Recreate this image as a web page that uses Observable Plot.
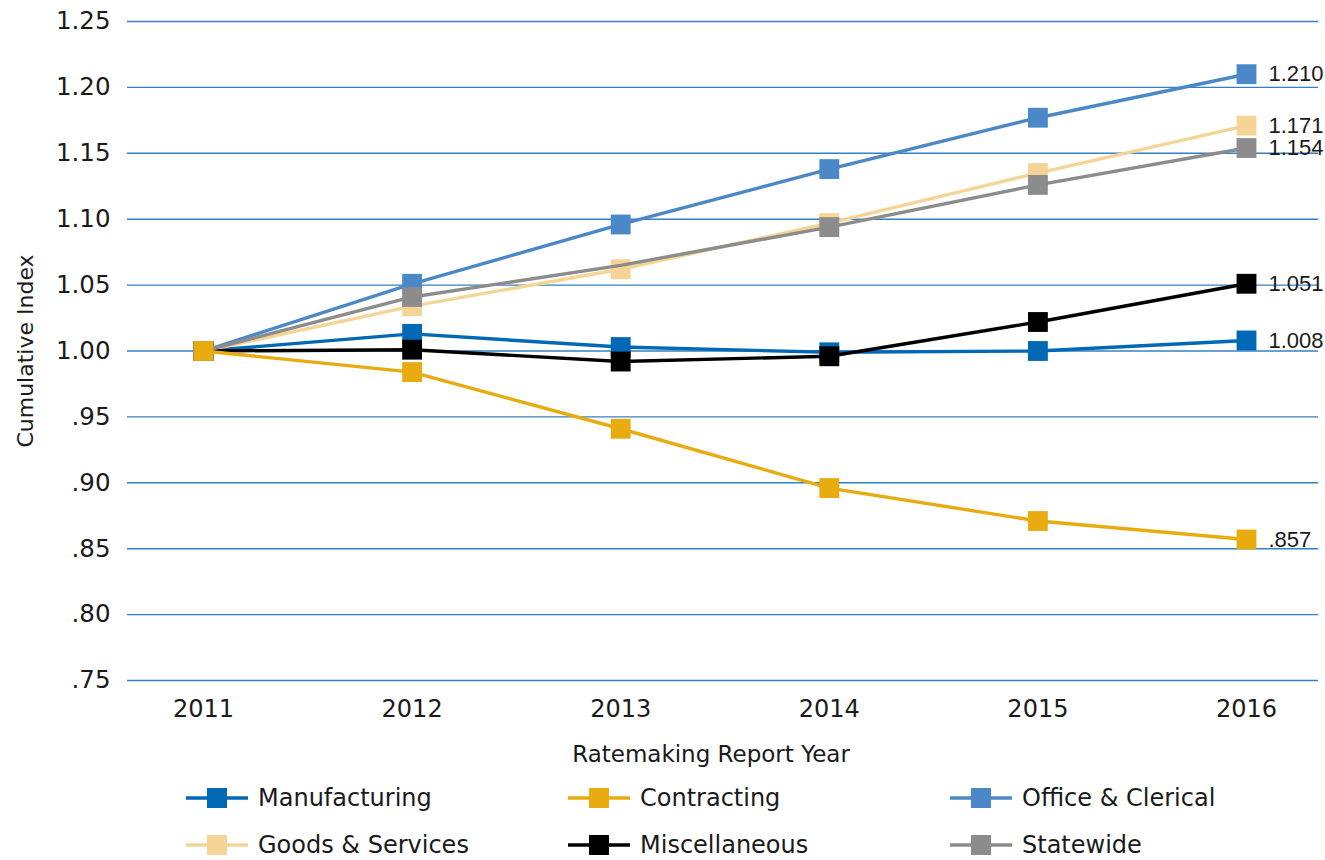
<!DOCTYPE html>
<html><head><meta charset="utf-8">
<script src="https://cdn.jsdelivr.net/npm/d3@7"></script>
<script src="https://cdn.jsdelivr.net/npm/@observablehq/plot@0.6"></script>
<style>
body{margin:0;background:#fff;font-family:"DejaVu Sans",sans-serif;color:#1a1a1a;}
#legend{display:grid;grid-template-columns:382px 382px 382px;grid-auto-rows:47px;margin-left:186px;margin-top:-1px;}
.item{display:flex;align-items:center;font-size:24px;color:#1a1a1a;white-space:nowrap;}
.item svg{margin-right:10px;flex:none;}
</style></head><body>
<div id="chart"></div>
<div id="legend"></div>
<script>
const years = [2011, 2012, 2013, 2014, 2015, 2016];
const seriesNames = ["Manufacturing", "Contracting", "Office & Clerical", "Goods & Services", "Miscellaneous", "Statewide"];
const seriesColors = ["#0068b5", "#e8ab10", "#4b88c8", "#f5d595", "#000000", "#8c8c8c"];
const manufacturing = [1.000, 1.013, 1.003, 0.999, 1.000, 1.008];
const contracting = [1.000, 0.984, 0.941, 0.896, 0.871, 0.857];
const officeClerical = [1.000, 1.051, 1.096, 1.138, 1.177, 1.210];
const goodsServices = [1.000, 1.034, 1.062, 1.097, 1.135, 1.171];
const miscellaneous = [1.000, 1.001, 0.992, 0.996, 1.022, 1.051];
const statewide = [1.000, 1.041, 1.065, 1.094, 1.126, 1.154];
const endLabels = ["1.008", ".857", "1.210", "1.171", "1.051", "1.154"];
const yTicks = [0.75, 0.80, 0.85, 0.90, 0.95, 1.00, 1.05, 1.10, 1.15, 1.20, 1.25];
const drawOrder = ["Manufacturing", "Office & Clerical", "Goods & Services", "Miscellaneous", "Statewide", "Contracting"];
const missingMarkers = [["Statewide", 2013]];
const xTitle = "Ratemaking Report Year";
const yTitle = "Cumulative Index";

const seriesValues = [manufacturing, contracting, officeClerical, goodsServices, miscellaneous, statewide];
const rowsBySeries = {};
seriesNames.forEach((s, i) => {
  rowsBySeries[s] = years.map((yr, j) => ({series: s, year: yr, value: seriesValues[i][j], label: j === years.length - 1 ? endLabels[i] : null}));
});
const hasMarker = d => !missingMarkers.some(([s, y]) => s === d.series && y === d.year);

const fmtY = d => d >= 1 ? d.toFixed(2) : d.toFixed(2).replace(/^0/, "");

const seriesMarks = [];
for (const s of drawOrder) {
  const rows = rowsBySeries[s];
  seriesMarks.push(Plot.line(rows, {x: "year", y: "value", stroke: "series", strokeWidth: 3.4}));
  seriesMarks.push(Plot.dot(rows.filter(hasMarker), {x: "year", y: "value", fill: "series", symbol: "square", r: 11.2, stroke: "none"}));
}
const lastRows = seriesNames.map(s => rowsBySeries[s][years.length - 1]);

const chart = Plot.plot({
  width: 1325,
  height: 775,
  marginLeft: 127,
  marginRight: 7,
  marginTop: 21,
  marginBottom: 95,
  insetLeft: 76,
  insetRight: 72,
  style: {fontFamily: "DejaVu Sans, sans-serif", color: "#1a1a1a", background: "#fff"},
  x: {type: "linear", domain: [years[0], years[years.length - 1]]},
  y: {domain: [0.75, 1.25]},
  color: {domain: seriesNames, range: seriesColors},
  marks: [
    Plot.ruleY(yTicks, {stroke: "#3580c2", strokeWidth: 1.4}),
    Plot.axisY(yTicks, {tickSize: 0, tickPadding: 17, tickFormat: fmtY, fontSize: 24.5, label: null}),
    Plot.axisX(years, {tickSize: 0, tickPadding: 19, tickFormat: d => String(d), fontSize: 24, label: null}),
    Plot.text([xTitle], {frameAnchor: "bottom", dy: 81, dx: -12, fontSize: 23, fill: "#1a1a1a"}),
    Plot.text([yTitle], {frameAnchor: "left", textAnchor: "middle", rotate: -90, dx: -102, fontSize: 22, fill: "#1a1a1a"}),
    ...seriesMarks,
    Plot.text(lastRows, {x: "year", y: "value", text: "label", textAnchor: "start", dx: 22, fontSize: 22, fontFamily: "Liberation Sans Narrow, Arial Narrow, sans-serif", fill: "#1a1a1a"})
  ]
});
document.getElementById("chart").appendChild(chart);

const legend = document.getElementById("legend");
seriesNames.forEach((s, i) => {
  const c = seriesColors[i];
  const div = document.createElement("div");
  div.className = "item";
  div.innerHTML = `<svg width="62" height="22"><line x1="0" x2="62" y1="11" y2="11" stroke="${c}" stroke-width="3.4"/><rect x="21" y="1" width="20" height="20" fill="${c}"/></svg><span></span>`;
  div.querySelector("span").textContent = s;
  legend.appendChild(div);
});
</script>
</body></html>
